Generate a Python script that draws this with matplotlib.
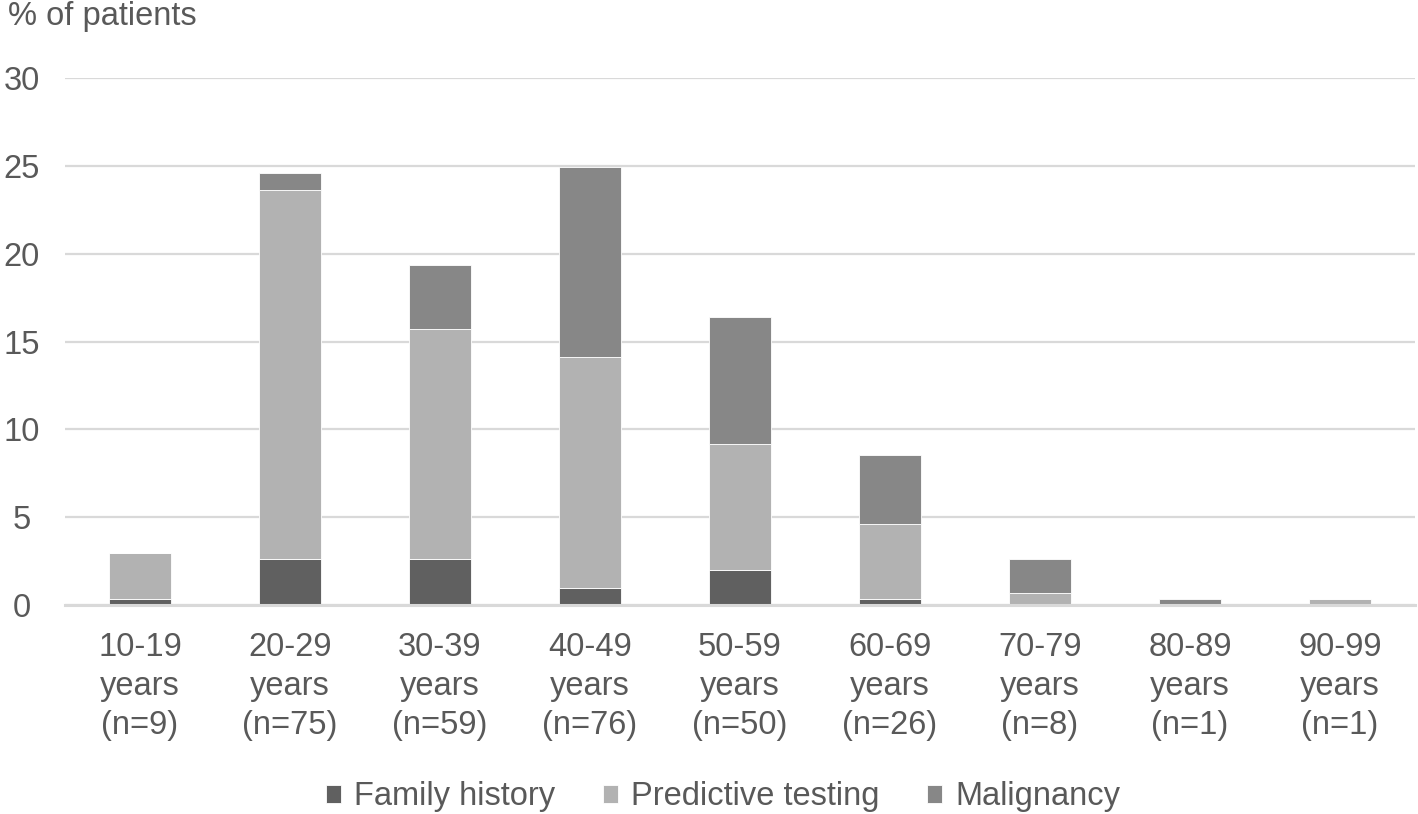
import matplotlib
matplotlib.use("Agg")
import matplotlib.pyplot as plt
import numpy as np

categories = ["10-19\nyears\n(n=9)", "20-29\nyears\n(n=75)", "30-39\nyears\n(n=59)",
              "40-49\nyears\n(n=76)", "50-59\nyears\n(n=50)", "60-69\nyears\n(n=26)",
              "70-79\nyears\n(n=8)", "80-89\nyears\n(n=1)", "90-99\nyears\n(n=1)"]
family_history = [0.33, 2.62, 2.62, 0.98, 1.97, 0.33, 0.0, 0.0, 0.0]
predictive_testing = [2.62, 20.98, 13.11, 13.11, 7.21, 4.26, 0.66, 0.0, 0.33]
malignancy = [0.0, 0.98, 3.61, 10.82, 7.21, 3.93, 1.97, 0.33, 0.0]
yticks = [0, 5, 10, 15, 20, 25, 30]

plt.rcParams['font.family'] = ['Liberation Sans', 'DejaVu Sans']
FS = 23.5
TXT = "#595959"

fig = plt.figure(figsize=(14.18, 8.14), dpi=100)
ax = fig.add_axes([65/1418, 1-605/814, (1415-65)/1418, (605-78)/814])

x = np.arange(len(categories))
w = 0.41
fh = np.array(family_history)
pt = np.array(predictive_testing)
ml = np.array(malignancy)
ax.bar(x, fh, w, color="#606060", edgecolor="white", linewidth=0.6, label="Family history", zorder=3)
ax.bar(x, pt, w, bottom=fh, color="#b2b2b2", edgecolor="white", linewidth=0.6, label="Predictive testing", zorder=3)
ax.bar(x, ml, w, bottom=fh+pt, color="#878787", edgecolor="white", linewidth=0.6, label="Malignancy", zorder=3)

ax.set_xlim(-0.5, len(categories)-0.5)
ax.set_ylim(0, 30)
ax.set_yticks(yticks)
ax.yaxis.grid(True, color="#d9d9d9", linewidth=1.6, zorder=0)
ax.set_axisbelow(True)
for s in ["top", "right", "left"]:
    ax.spines[s].set_visible(False)
ax.spines["bottom"].set_color("#d9d9d9")
ax.spines["bottom"].set_linewidth(2.2)
ax.spines["bottom"].set_zorder(4)
ax.tick_params(axis="both", length=0, labelsize=FS, labelcolor=TXT)
ax.set_xticks(x)
ax.set_xticklabels(categories, linespacing=1.33)
ax.tick_params(axis="x", pad=19.5)
for lbl in ax.get_yticklabels():
    lbl.set_horizontalalignment("center")
ax.tick_params(axis="y", pad=31)

fig.text(8/1418, 1-17/814, "% of patients", fontsize=FS, color=TXT, va="center", ha="left")

leg = fig.legend(loc="center", bbox_to_anchor=(723/1418, 1-797/814), ncol=3, frameon=False,
                 fontsize=FS, labelcolor=TXT, handlelength=0.47, handleheight=0.47,
                 handletextpad=0.4, columnspacing=1.45)

fig.savefig("out.png", dpi=100)
